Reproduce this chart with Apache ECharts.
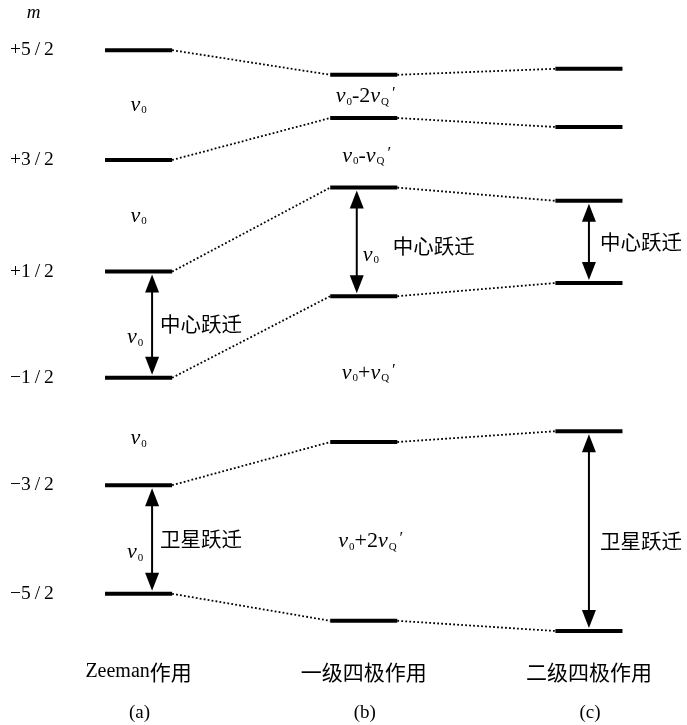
<!DOCTYPE html>
<html>
<head>
<meta charset="utf-8">
<script src="https://cdn.jsdelivr.net/npm/echarts@6/dist/echarts.min.js"></script>
<style>
  html, body { margin: 0; padding: 0; background: #fff; }
  #chart { width: 687px; height: 725px; }
</style>
</head>
<body>
<div id="chart"></div>
<script>
// ---- data -------------------------------------------------------------
// Three panels: pure Zeeman splitting, first-order and second-order quadrupole shift
const columnNames = ['Zeeman作用', '一级四极作用', '二级四极作用'];
const panelTags = ['(a)', '(b)', '(c)'];
// magnetic quantum numbers, top to bottom
const mLabels = ['+5\u2009/\u20092', '+3\u2009/\u20092', '+1\u2009/\u20092', '\u22121\u2009/\u20092', '\u22123\u2009/\u20092', '\u22125\u2009/\u20092'];
// level energies (arbitrary units), m = +5/2 ... -5/2
const zeemanLevels = [98.3, 80.0, 61.4, 43.7, 25.8, 7.7];
const firstOrderLevels = [94.2, 87.0, 75.4, 57.3, 33.0, 3.2];
const secondOrderLevels = [95.2, 85.5, 73.2, 59.5, 34.8, 1.5];
// transition frequencies written between adjacent levels: [panel, gap index, text]
const V0 = '{v|v}{s|0}';
const gapLabels = [
  [0, 0, V0],
  [0, 1, V0],
  [0, 3, V0],
  [1, 0, '{v|v}{s|0}{n|-2}{v|v}{s|Q}{p|\u2032}'],
  [1, 1, '{v|v}{s|0}{n|-}{v|v}{s|Q}{p|\u2032}'],
  [1, 3, '{v|v}{s|0}{n|+}{v|v}{s|Q}{p|\u2032}'],
  [1, 4, '{v|v}{s|0}{n|+2}{v|v}{s|Q}{p|\u2032}']
];
// marked transitions: [panel, gap index, name]
const transitions = [
  [0, 2, '中心跃迁'],
  [0, 4, '卫星跃迁'],
  [1, 2, '中心跃迁'],
  [2, 2, '中心跃迁'],
  [2, 4, '卫星跃迁']
];

// ---- layout / style ---------------------------------------------------
const levelsByColumn = [zeemanLevels, firstOrderLevels, secondOrderLevels];
const HALF = 0.149;                 // half width of a level bar (x units)
const BAR_H = 4;
const arrowDx = [13.5, -7, 0];      // arrow offset from panel centre (px)
const v0Dx = [-17, 14, null];       // frequency label next to the arrow
const nameDx = [8, 36, 11];         // transition name offset from the arrow
const gapOffsets = {                // fine pixel offsets of gap labels
  '0-0': [0, 0], '0-1': [0, 0], '0-3': [0, 7],
  '1-0': [2, 0], '1-1': [3, 3], '1-3': [5, 4], '1-4': [7, 10]
};
const nameDy = { '0-2': 0, '0-4': 0, '1-2': 4, '2-2': 0, '2-4': 10 };
const v0Dy = 13;

const SERIF = '"Liberation Serif", "DejaVu Serif", serif';
const CJK = '"Noto Sans CJK SC", sans-serif';
const rich = {
  v: { fontFamily: SERIF, fontStyle: 'italic', fontSize: 22, color: '#000', verticalAlign: 'middle' },
  s: { fontFamily: SERIF, fontSize: 11, color: '#000', verticalAlign: 'bottom', padding: [0, 0, 0, 1] },
  n: { fontFamily: SERIF, fontSize: 22, color: '#000', verticalAlign: 'middle' },
  p: { fontFamily: SERIF, fontSize: 17, color: '#000', verticalAlign: 'top', padding: [0, 0, 0, 3] },
  z: { fontFamily: SERIF, fontSize: 20, color: '#000' },
  h: { fontFamily: CJK, fontSize: 21, color: '#000' }
};

const mid = (c, g) => (levelsByColumn[c][g] + levelsByColumn[c][g + 1]) / 2;

// level bars
const levelData = [];
levelsByColumn.forEach((lv, c) => lv.forEach((e) => levelData.push([c, e])));

// dotted correlation lines between neighbouring panels
const linkData = [];
for (let c = 0; c < 2; c++) {
  for (let i = 0; i < 6; i++) linkData.push([c, levelsByColumn[c][i], levelsByColumn[c + 1][i]]);
}

// double-headed arrows
const arrowData = transitions.map((t) => [t[0], levelsByColumn[t[0]][t[1]], levelsByColumn[t[0]][t[1] + 1]]);

// text labels: { c, e, dx, dy, text, rich/font, align }
const labelSpecs = [];
gapLabels.forEach(([c, g, txt]) => {
  const off = gapOffsets[c + '-' + g];
  labelSpecs.push({ c, e: mid(c, g), dx: off[0], dy: off[1], text: txt, rich: true, align: 'center' });
});
transitions.forEach(([c, g, name]) => {
  const key = c + '-' + g;
  labelSpecs.push({ c, e: mid(c, g), dx: arrowDx[c] + nameDx[c], dy: nameDy[key], text: name,
    font: '20.5px ' + CJK, align: 'left' });
  if (v0Dx[c] !== null) {
    labelSpecs.push({ c, e: mid(c, g), dx: arrowDx[c] + v0Dx[c], dy: v0Dy, text: V0, rich: true, align: 'center' });
  }
});
mLabels.forEach((t, i) => {
  labelSpecs.push({ c: 0, e: zeemanLevels[i], dx: -128.5, dy: 0, text: t,
    font: '19.5px ' + SERIF, align: 'left' });
});
labelSpecs.push({ c: 0, e: 100, dx: -105, dy: -27, text: 'm',
  font: 'italic 19px ' + SERIF, align: 'center' });
columnNames.forEach((name, c) => {
  const txt = c === 0 ? '{z|Zeeman}{h|作用}' : '{h|' + name + '}';
  labelSpecs.push({ c, e: 0, dx: 0, dy: 32, text: txt, rich: true, align: 'center' });
  labelSpecs.push({ c, e: 0, dx: 1, dy: 73, text: panelTags[c], font: '19px ' + SERIF, align: 'center' });
});

const chart = echarts.init(document.getElementById('chart'), null, { renderer: 'canvas' });
chart.setOption({
  backgroundColor: '#fff',
  animation: false,
  grid: { left: 26, right: 8, top: 40, bottom: 85 },
  xAxis: { type: 'value', min: -0.5, max: 2.4, show: false },
  yAxis: { type: 'value', min: 0, max: 100, show: false },
  series: [
    {
      type: 'custom', data: linkData, silent: true, z: 1,
      renderItem: (params, api) => {
        const c = api.value(0);
        const a = api.coord([c + HALF, api.value(1)]);
        const b = api.coord([c + 1 - HALF, api.value(2)]);
        return { type: 'line', shape: { x1: a[0], y1: a[1], x2: b[0], y2: b[1] },
          style: { stroke: '#000', lineWidth: 1.8, lineDash: [1.8, 2.2], lineCap: 'butt' } };
      }
    },
    {
      type: 'custom', data: levelData, silent: true, z: 2,
      renderItem: (params, api) => {
        const c = api.value(0), e = api.value(1);
        const a = api.coord([c - HALF, e]);
        const b = api.coord([c + HALF, e]);
        return { type: 'rect', shape: { x: a[0], y: a[1] - BAR_H / 2, width: b[0] - a[0], height: BAR_H },
          style: { fill: '#000' } };
      }
    },
    {
      type: 'custom', data: arrowData, silent: true, z: 3,
      renderItem: (params, api) => {
        const c = api.value(0);
        const top = api.coord([c, api.value(1)]);
        const bot = api.coord([c, api.value(2)]);
        const x = top[0] + arrowDx[c];
        const y1 = top[1] + BAR_H / 2 + 1;
        const y2 = bot[1] - BAR_H / 2 - 1;
        const hl = 18, hw = 7;
        return {
          type: 'group',
          children: [
            { type: 'line', shape: { x1: x, y1: y1 + hl - 2, x2: x, y2: y2 - hl + 2 },
              style: { stroke: '#000', lineWidth: 2 } },
            { type: 'polygon', shape: { points: [[x, y1], [x - hw, y1 + hl], [x + hw, y1 + hl]] },
              style: { fill: '#000' } },
            { type: 'polygon', shape: { points: [[x, y2], [x - hw, y2 - hl], [x + hw, y2 - hl]] },
              style: { fill: '#000' } }
          ]
        };
      }
    },
    {
      type: 'custom', data: labelSpecs.map((s) => [s.c, s.e]), silent: true, z: 4,
      renderItem: (params, api) => {
        const s = labelSpecs[params.dataIndex];
        const p = api.coord([api.value(0), api.value(1)]);
        const style = {
          text: s.text, x: p[0] + s.dx, y: p[1] + s.dy,
          align: s.align, verticalAlign: 'middle', fill: '#000'
        };
        if (s.rich) {
          style.rich = rich;
        } else {
          style.font = s.font;
        }
        return { type: 'text', style };
      }
    }
  ]
});
</script>
</body>
</html>
